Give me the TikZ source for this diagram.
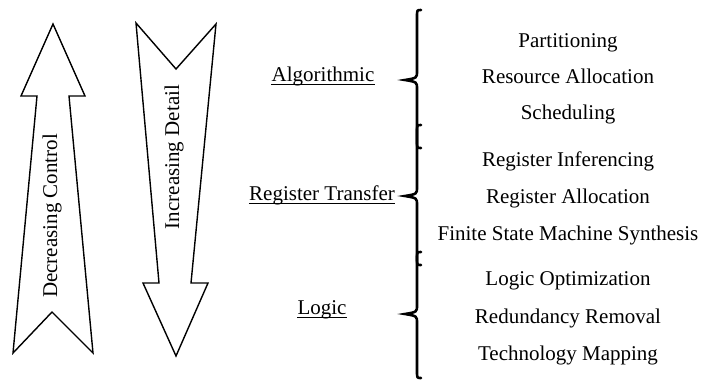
\documentclass[tikz,border=0pt]{standalone}
\usepackage{fontspec}
\setmainfont{Liberation Serif}
\begin{document}
\begin{tikzpicture}[x=1pt,y=-1pt,
  txt/.style={font=\fontsize{21}{25}\selectfont, inner sep=0pt, anchor=base},
  lvl/.style={txt},
  big/.style={draw=black, line width=1.4pt, line join=miter, fill=white},
  brc/.style={draw=black, line width=2.6pt, line cap=round},
  ul/.style={draw=black, line width=1pt}]
\useasboundingbox (0,0) rectangle (703,384);
% up arrow
\draw[big] (53,24) -- (85,96) -- (69,96) -- (93,353) -- (52,312) -- (13,353) -- (37,96) -- (21,96) -- cycle;
% down arrow
\draw[big] (136,23) -- (176,69) -- (216,24) -- (191,283) -- (208,283) -- (176,356) -- (143,283) -- (159,283) -- cycle;
\node[txt, anchor=center, rotate=90] (dc) at (52,216) {Decreasing Control};
\node[txt, anchor=center, rotate=90] (id) at (174,157) {Increasing Detail};
% level labels
\node[lvl] (alg) at (323,81) {Algorithmic};
\node[lvl] (rt) at (322,200) {Register Transfer};
\node[lvl] (lg) at (322,314) {Logic};
\draw[ul] ([yshift=-3.5pt]alg.base west) -- ([yshift=-3.5pt]alg.base east);
\draw[ul] ([yshift=-3.5pt]rt.base west) -- ([yshift=-3.5pt]rt.base east);
\draw[ul] ([yshift=-3.5pt]lg.base west) -- ([yshift=-3.5pt]lg.base east);
% braces
\draw[brc] (421,10) .. controls (417,10) .. (417,17) -- (417,71) .. controls (417,78) .. (405,80) .. controls (417,82) .. (417,89) -- (417,141) .. controls (417,148) .. (421,148);
\draw[brc] (421,125) .. controls (417,125) .. (417,132) -- (417,187) .. controls (417,194) .. (405,196) .. controls (417,198) .. (417,205) -- (417,258) .. controls (417,265) .. (421,265);
\draw[brc] (421,252) .. controls (417,252) .. (417,259) -- (417,305) .. controls (417,312) .. (405,314) .. controls (417,316) .. (417,323) -- (417,371) .. controls (417,378) .. (421,378);
% tasks
\node[txt] (t1) at (568,47) {Partitioning};
\node[txt] (t2) at (568,83) {Resource Allocation};
\node[txt] (t3) at (568,119) {Scheduling};
\node[txt] (t4) at (568,166) {Register Inferencing};
\node[txt] (t5) at (568,203) {Register Allocation};
\node[txt] (t6) at (568,240) {Finite State Machine Synthesis};
\node[txt] (t7) at (568,285) {Logic Optimization};
\node[txt] (t8) at (568,323) {Redundancy Removal};
\node[txt] (t9) at (568,360) {Technology Mapping};
\end{tikzpicture}
\end{document}
